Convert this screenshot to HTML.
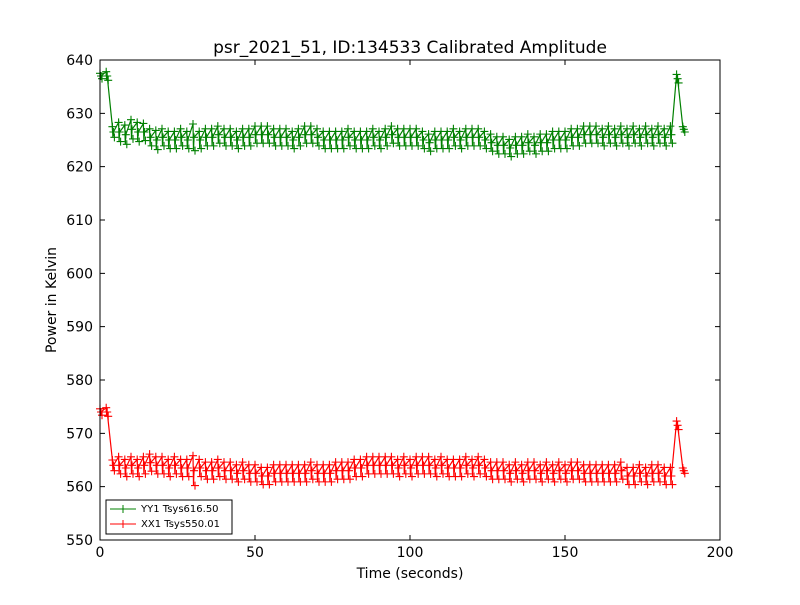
<!DOCTYPE html>
<html><head><meta charset="utf-8"><style>
body{margin:0;background:#fff;}
svg text{font-family:"DejaVu Sans","Liberation Sans",sans-serif;}
</style></head><body>
<svg id="chart" width="800" height="600" xmlns="http://www.w3.org/2000/svg">
<rect width="800" height="600" fill="#fff"/>
<text x="410" y="53" font-size="17" text-anchor="middle">psr_2021_51, ID:134533 Calibrated Amplitude</text>
<text x="410" y="578" font-size="14" text-anchor="middle">Time (seconds)</text>
<text x="56" y="300" font-size="14" text-anchor="middle" transform="rotate(-90 56 300)">Power in Kelvin</text>
<g id="series"></g>
<g id="axes"></g>
<rect x="100" y="60" width="620" height="480" fill="none" stroke="#000" stroke-width="1"/>
<g>
<rect x="106" y="500" width="126" height="34" fill="#fff" stroke="#000"/>
<line x1="110" y1="509" x2="136" y2="509" stroke="green"/><path d="M123 505v8M119 509h8" stroke="green"/>
<text x="141" y="512" font-size="10">YY1 Tsys616.50</text>
<line x1="110" y1="524" x2="136" y2="524" stroke="red"/><path d="M123 520v8M119 524h8" stroke="red"/>
<text x="141" y="527" font-size="10">XX1 Tsys550.01</text>
</g>
</svg>
<script>
const times=[0,2,4,6,8,10,12,14,16,18,20,22,24,26,28,30,32,34,36,38,40,42,44,46,48,50,52,54,56,58,60,62,64,66,68,70,72,74,76,78,80,82,84,86,88,90,92,94,96,98,100,102,104,106,108,110,112,114,116,118,120,122,124,126,128,130,132,134,136,138,140,142,144,146,148,150,152,154,156,158,160,162,164,166,168,170,172,174,176,178,180,182,184,186,188];
const yy1=[637,637,626.5,626.5,626,627,626.5,626.5,625.5,625,625.5,625,625,625.5,625,625.5,625,625.5,625.5,626,625.5,625.5,625,625.5,625.5,626,626,626,625.5,625.5,625.5,625,625.5,626,626,625.5,625,625,625,625,625.5,625,625,625,625.5,625,625.5,626,625.5,625.5,625.5,625.5,625,624.5,625,625,625,625.5,625,625.5,625.5,625.5,625,624.5,624,624,623.5,624,624,624.5,624,624.5,624.5,625,625,625,625.5,625.5,626,626,626,625.5,626,625.5,626,625.5,626,625.5,626,625.5,626,625.5,626,636.5,627];
const yy1Spread=[0.5,0.8,1,1.8,1.8,1.8,1.8,1.6,1.6,1.8,1.6,1.6,1.6,1.6,1.6,2.5,1.6,1.6,1.6,1.6,1.6,1.6,1.6,1.6,1.6,1.6,1.6,1.6,1.6,1.6,1.6,1.6,1.6,1.6,1.6,1.6,1.6,1.6,1.6,1.6,1.6,1.6,1.6,1.6,1.6,1.6,1.6,1.6,1.6,1.6,1.6,1.6,1.6,1.6,1.6,1.6,1.6,1.6,1.6,1.6,1.6,1.6,1.6,1.6,1.6,1.6,1.6,1.6,1.6,1.6,1.6,1.6,1.6,1.6,1.6,1.6,1.6,1.6,1.6,1.6,1.6,1.6,1.6,1.6,1.6,1.6,1.6,1.6,1.6,1.6,1.6,1.6,1.6,0.8,0.5];
const xx1=[574,574,564,564,563.5,564,563.5,564,564.5,564,564,563.5,564,563.5,563.5,563,563.5,563,563,563.5,563,563,562.5,563,562.5,562.5,562,562,562.5,562.5,562.5,562.5,562.5,562.5,563,562.5,562.5,562.5,563,563,563,563.5,563.5,564,564,564,564,564,563.5,564,563.5,564,564,564,563.5,564,563.5,563.5,563.5,564,563.5,564,563.5,563,563,563,562.5,563,562.5,563,563,562.5,563,562.5,563,562.5,563,563,562.5,562.5,562.5,562.5,562.5,562.5,563,562,562,562.5,562,562.5,562.5,562,562,571.5,563];
const xx1Spread=[0.6,0.8,1,1.6,1.6,1.6,1.6,1.6,1.6,1.6,1.6,1.6,1.6,1.6,1.6,2.8,1.6,1.6,1.6,1.6,1.6,1.6,1.6,1.6,1.6,1.6,1.6,1.6,1.6,1.6,1.6,1.6,1.6,1.6,1.6,1.6,1.6,1.6,1.6,1.6,1.6,1.6,1.6,1.6,1.6,1.6,1.6,1.6,1.6,1.6,1.6,1.6,1.6,1.6,1.6,1.6,1.6,1.6,1.6,1.6,1.6,1.6,1.6,1.6,1.6,1.6,1.6,1.6,1.6,1.6,1.6,1.6,1.6,1.6,1.6,1.6,1.6,1.6,1.6,1.6,1.6,1.6,1.6,1.6,1.6,1.6,1.6,1.6,1.6,1.6,1.6,1.6,1.6,0.8,0.5];
const xTicks=[0,50,100,150,200];
const yTicks=[550,560,570,580,590,600,610,620,630,640];
const NS="http://www.w3.org/2000/svg";
const X=v=>100+(v-0)/200*620, Y=v=>540-(v-550)/90*480;
function mk(t,a,p){const e=document.createElementNS(NS,t);for(const k in a)e.setAttribute(k,a[k]);p.appendChild(e);return e;}
const sg=document.getElementById('series'), ax=document.getElementById('axes');
function draw(vals,spread,col,name){
  const g=mk('g',{},sg);
  
  
  let d='';
  vals.forEach((v,i)=>{const x=X(times[i]);
    d+=(i?'L':'M')+x.toFixed(1)+' '+Y(v+spread[i]).toFixed(1);
    d+='L'+(x+0.5).toFixed(1)+' '+Y(v-spread[i]).toFixed(1)+'L'+(x+1).toFixed(1)+' '+Y(v).toFixed(1);});
  const l=mk('path',{d:d,fill:'none',stroke:col,'stroke-width':1.2},g);
  
  
  let m='';
  vals.forEach((v,i)=>{const x=X(times[i]);
    [v+spread[i],v,v-spread[i]].forEach((w,k)=>{const y=Y(w),xx=x+k;m+=`M${xx-4} ${y}h8M${xx} ${y-4}v8`;});});
  const p=mk('path',{d:m,fill:'none',stroke:col,'stroke-width':1.1},g);
  
  
}
draw(yy1,yy1Spread,'green','series-yy1');
draw(xx1,xx1Spread,'red','series-xx1');
xTicks.forEach(v=>{const x=X(v);
  const t=mk('path',{d:`M${x} 540v-5M${x} 60v5`,stroke:'#000'},ax);
  
  
  const s=mk('text',{x:x,y:557,'font-size':14,'text-anchor':'middle'},ax);s.textContent=v;
  
  });
yTicks.forEach(v=>{const y=Y(v);
  const t=mk('path',{d:`M100 ${y}h5M720 ${y}h-5`,stroke:'#000'},ax);
  
  
  const s=mk('text',{x:93,y:y+5,'font-size':14,'text-anchor':'end'},ax);s.textContent=v;
  
  });
</script>
</body></html>
